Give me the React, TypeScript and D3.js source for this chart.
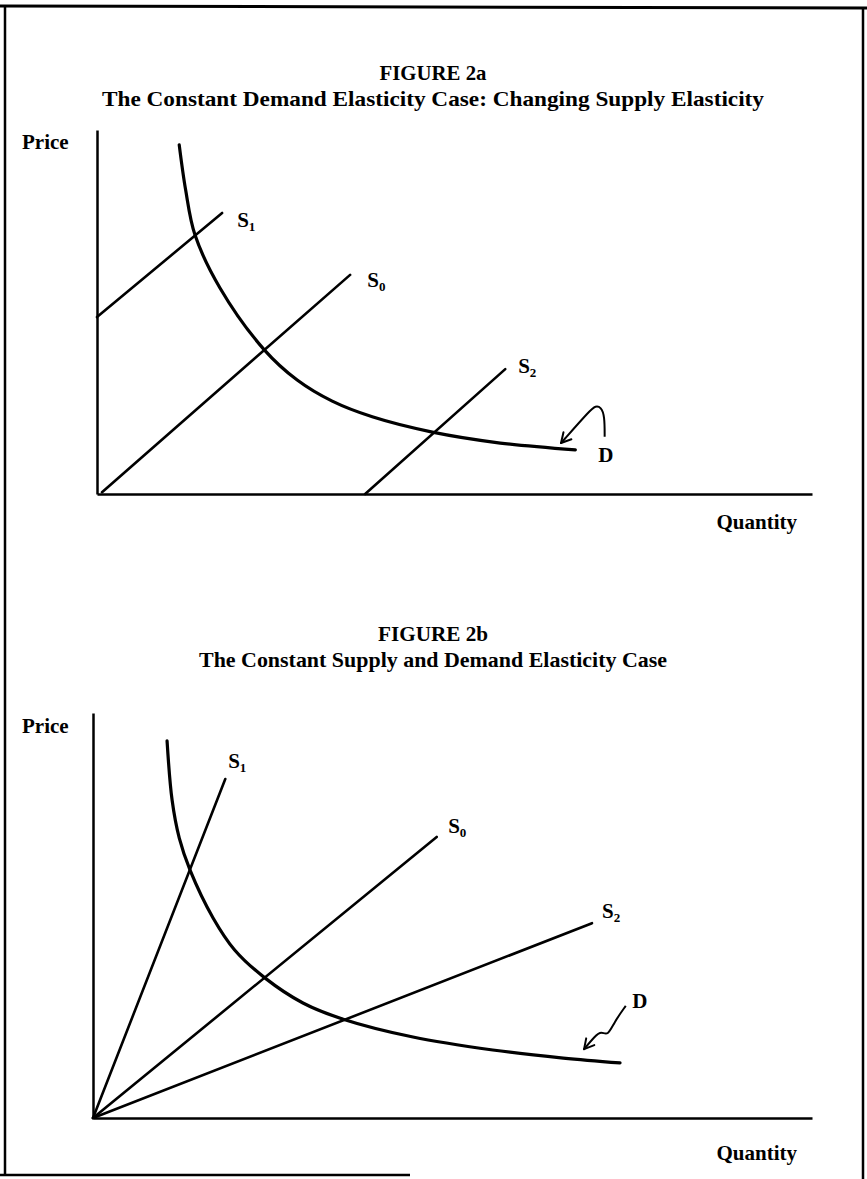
import { useEffect, useRef } from 'react';
import * as d3 from 'd3';

type Pt = [number, number];

// Both panels use unitless axes running 0..100 (price and quantity).

// FIGURE 2a
const demandA: Pt[] = [
  [11.5, 95.9], [12.4, 83.5], [13.7, 71.2], [17.2, 56.6], [23.4, 39.6], [28.0, 31.3],
  [32.9, 25.5], [38.5, 21.2], [46.9, 17.0], [56.4, 14.0], [66.9, 12.1],
];
const supplyA1: Pt[] = [[0, 48.6], [17.5, 77.2]];
const supplyA0: Pt[] = [[0.7, 0.5], [35.4, 60.2]];
const supplyA2: Pt[] = [[37.5, 0], [57.1, 34.3]];
const arrowA: Pt[] = [[71.0, 15.7], [71.0, 21.4], [70.5, 23.9], [69.7, 24.2], [69.0, 23.1], [64.9, 14.0]];
const labelsA = [
  { name: 'S', sub: '1', at: [19.6, 73.4] as Pt },
  { name: 'S', sub: '0', at: [37.8, 56.9] as Pt },
  { name: 'S', sub: '2', at: [58.9, 33.2] as Pt },
  { name: 'D', sub: '', at: [70.1, 8.8] as Pt },
];

// FIGURE 2b
const demandB: Pt[] = [
  [10.3, 93.1], [11.0, 78.5], [12.0, 69.1], [13.5, 61.2], [16.7, 49.4], [19.7, 41.5],
  [23.9, 34.6], [29.2, 28.4], [34.8, 24.4], [44.5, 20.0], [55.6, 16.8], [65.4, 14.8], [73.3, 13.6],
];
const supplyB1: Pt[] = [[0, 0], [18.4, 83.7]];
const supplyB0: Pt[] = [[0, 0], [47.8, 69.4]];
const supplyB2: Pt[] = [[0, 0], [69.4, 48.1]];
const arrowB: Pt[] = [[74.1, 27.7], [72.5, 23.7], [71.6, 20.2], [70.7, 21.5], [69.8, 20.2], [68.3, 17.0]];
const labelsB = [
  { name: 'S', sub: '1', at: [18.8, 86.4] as Pt },
  { name: 'S', sub: '0', at: [49.4, 70.4] as Pt },
  { name: 'S', sub: '2', at: [70.8, 49.4] as Pt },
  { name: 'D', sub: '', at: [75.0, 27.2] as Pt },
];

const panels = [
  {
    figure: 'FIGURE 2a',
    subtitle: 'The Constant Demand Elasticity Case: Changing Supply Elasticity',
    titleY: 80, subtitleY: 106, figureW: 107, subtitleW: 662,
    left: 97, right: 812, top: 130, bottom: 494,
    priceY: 149, quantityY: 529,
    demand: demandA, supplies: [supplyA1, supplyA0, supplyA2], arrow: arrowA, labels: labelsA,
  },
  {
    figure: 'FIGURE 2b',
    subtitle: 'The Constant Supply and Demand Elasticity Case',
    titleY: 641, subtitleY: 667, figureW: 110, subtitleW: 468,
    left: 93, right: 812, top: 713, bottom: 1118,
    priceY: 733, quantityY: 1160,
    demand: demandB, supplies: [supplyB1, supplyB0, supplyB2], arrow: arrowB, labels: labelsB,
  },
];

const FONT = '"Liberation Serif", "Times New Roman", serif';

export default function App() {
  const svgRef = useRef<SVGSVGElement>(null);

  useEffect(() => {
    if (!svgRef.current) return;
    const svg = d3.select(svgRef.current);
    svg.selectAll('*').remove();

    // scanned page frame
    const frame = svg.append('g').attr('stroke', '#000').attr('fill', 'none');
    frame.append('line').attr('x1', 0).attr('y1', 6).attr('x2', 867).attr('y2', 8).attr('stroke-width', 3);
    frame.append('line').attr('x1', 5).attr('y1', 6).attr('x2', 5).attr('y2', 1176).attr('stroke-width', 2.5);
    frame.append('line').attr('x1', 863).attr('y1', 7).attr('x2', 863).attr('y2', 1179).attr('stroke-width', 2.5);
    frame.append('line').attr('x1', 0).attr('y1', 1175).attr('x2', 410).attr('y2', 1175).attr('stroke-width', 2.5);

    panels.forEach((p) => {
      const g = svg.append('g');
      const x = d3.scaleLinear().domain([0, 100]).range([p.left, p.right]);
      const y = d3.scaleLinear().domain([0, 100]).range([p.bottom, p.top]);

      // titles
      g.append('text')
        .attr('x', 433).attr('y', p.titleY)
        .attr('text-anchor', 'middle')
        .attr('font-family', FONT).attr('font-weight', 'bold').attr('font-size', 22)
        .attr('textLength', p.figureW).attr('lengthAdjust', 'spacingAndGlyphs')
        .text(p.figure);
      g.append('text')
        .attr('x', 433).attr('y', p.subtitleY)
        .attr('text-anchor', 'middle')
        .attr('font-family', FONT).attr('font-weight', 'bold').attr('font-size', 22)
        .attr('textLength', p.subtitleW).attr('lengthAdjust', 'spacingAndGlyphs')
        .text(p.subtitle);

      // axes
      g.append('g')
        .attr('transform', `translate(${x(0)},0)`)
        .call(d3.axisLeft(y).ticks(0).tickSizeOuter(0))
        .select('.domain').attr('stroke-width', 2.5);
      g.append('g')
        .attr('transform', `translate(0,${y(0)})`)
        .call(d3.axisBottom(x).ticks(0).tickSizeOuter(0))
        .select('.domain').attr('stroke-width', 2.5);

      g.append('text')
        .attr('x', 22).attr('y', p.priceY)
        .attr('font-family', FONT).attr('font-weight', 'bold').attr('font-size', 21)
        .text('Price');
      g.append('text')
        .attr('x', 797).attr('y', p.quantityY)
        .attr('text-anchor', 'end')
        .attr('font-family', FONT).attr('font-weight', 'bold').attr('font-size', 21)
        .text('Quantity');

      const line = d3.line<Pt>().x((d) => x(d[0])).y((d) => y(d[1]));

      // supply curves
      p.supplies.forEach((s) => {
        g.append('path')
          .attr('d', line(s))
          .attr('fill', 'none').attr('stroke', '#000').attr('stroke-width', 2.6)
          .attr('stroke-linecap', 'round');
      });

      // demand curve
      g.append('path')
        .attr('d', d3.line<Pt>().x((d) => x(d[0])).y((d) => y(d[1])).curve(d3.curveCatmullRom.alpha(0.5))(p.demand))
        .attr('fill', 'none').attr('stroke', '#000').attr('stroke-width', 3.2)
        .attr('stroke-linecap', 'round');

      // hand-drawn pointer to D
      g.append('path')
        .attr('d', d3.line<Pt>().x((d) => x(d[0])).y((d) => y(d[1])).curve(d3.curveBasis)(p.arrow))
        .attr('fill', 'none').attr('stroke', '#000').attr('stroke-width', 2);
      const tip = p.arrow[p.arrow.length - 1];
      const prev = p.arrow[p.arrow.length - 2];
      const ang = Math.atan2(y(tip[1]) - y(prev[1]), x(tip[0]) - x(prev[0]));
      [-0.5, 0.5].forEach((da) => {
        g.append('line')
          .attr('x1', x(tip[0])).attr('y1', y(tip[1]))
          .attr('x2', x(tip[0]) - 11 * Math.cos(ang + da))
          .attr('y2', y(tip[1]) - 11 * Math.sin(ang + da))
          .attr('stroke', '#000').attr('stroke-width', 2).attr('stroke-linecap', 'round');
      });

      // curve labels
      p.labels.forEach((l) => {
        const t = g.append('text')
          .attr('x', x(l.at[0])).attr('y', y(l.at[1]))
          .attr('font-family', FONT).attr('font-weight', 'bold').attr('font-size', 21)
          .text(l.name);
        if (l.sub) {
          t.append('tspan').attr('font-size', 13).attr('dy', 4).text(l.sub);
        }
      });
    });
  }, []);

  return (
    <svg
      ref={svgRef}
      width={867}
      height={1179}
      style={{ position: 'absolute', left: 0, top: 0, background: '#fff' }}
    />
  );
}
